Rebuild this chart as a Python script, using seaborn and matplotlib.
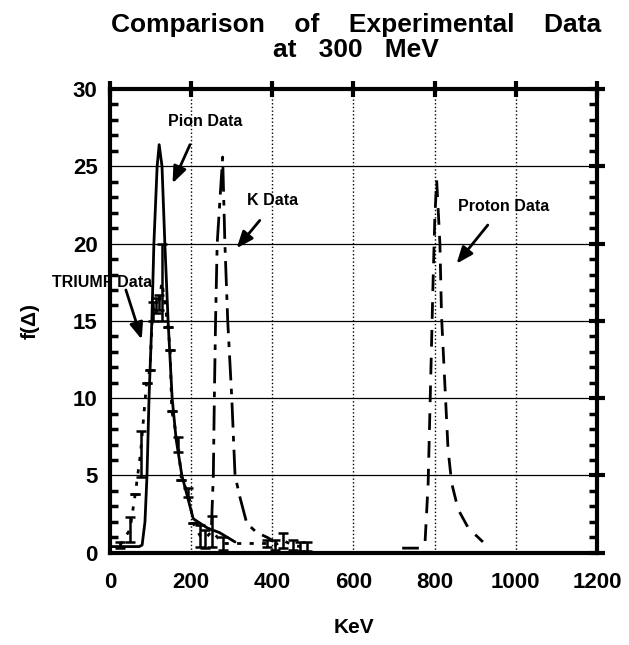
import numpy as np
import pandas as pd
import matplotlib
matplotlib.use("Agg")
import matplotlib.pyplot as plt
import seaborn as sns
from matplotlib.ticker import MultipleLocator

# pion data (solid)
pion_kev = [0, 72, 79, 86, 91, 96, 103, 108, 116, 121, 128, 135, 143, 153, 163, 177, 192, 205, 240, 270, 308]
pion_f = [0.4, 0.4, 0.5, 2, 5, 10, 15, 20, 25, 26.4, 25, 20, 15, 10, 7.3, 5, 3.5, 2.2, 1.6, 1.3, 0.7]

# K data (dash-dot)
k_kev = [250, 254.5, 257, 260, 264, 277.5, 283, 290, 300, 308, 320, 337, 362, 387, 400]
k_f = [1.8, 5, 10, 15, 20, 25.6, 20, 15, 10, 5, 3.6, 1.9, 1.3, 1.0, 0.8]

# proton data (dashed)
proton_kev = [720, 765, 776, 784, 788, 792, 796, 800.5, 805, 813, 817, 825, 833, 842, 858, 883, 919]
proton_f = [0.3, 0.3, 0.5, 4.5, 8.8, 13.1, 17.4, 21.7, 24.1, 20, 15.3, 11, 6.7, 4.5, 2.8, 1.6, 0.7]

# TRIUMF data with error bars
triumf_kev = [25, 49, 62, 75, 90, 98, 105, 112, 120, 128, 143, 148, 152, 168, 176, 193, 205,
              222, 234, 251, 278, 387, 406, 426, 450, 468, 485]
triumf_f = [0.5, 1.5, 3.8, 6.4, 11, 11.8, 15.6, 16, 16.2, 17.5, 14.6, 13.1, 9.2, 7, 4.7, 3.9, 1.9,
            1.1, 0.9, 1.4, 0.6, 0.6, 0.5, 0.8, 0.5, 0.4, 0.4]
triumf_err = [0.2, 0.8, 0, 1.5, 0, 0, 0.6, 0.5, 0.5, 2.5, 0, 0, 0, 0.5, 0, 0.3, 0,
              0.7, 0.6, 1.0, 0.4, 0.2, 0.3, 0.5, 0.3, 0.3, 0.3]

sns.set_style("white")
plt.rcParams['font.family'] = ['Liberation Sans', 'DejaVu Sans']
plt.rcParams['font.weight'] = 'bold'
for key in ['text.color', 'axes.labelcolor', 'xtick.color', 'ytick.color']:
    plt.rcParams[key] = 'black'

fig = plt.figure(figsize=(6.29, 6.45), dpi=100)
ax = fig.add_axes([0.175, 0.143, 0.774, 0.719])

sns.lineplot(x=pion_kev, y=pion_f, ax=ax, color='black', lw=2, sort=False)
sns.lineplot(x=k_kev, y=k_f, ax=ax, color='black', lw=2, sort=False)
ax.lines[-1].set_dashes([9, 3, 2, 3])
sns.lineplot(x=proton_kev, y=proton_f, ax=ax, color='black', lw=2, sort=False)
ax.lines[-1].set_dashes([6, 4])
sns.lineplot(x=triumf_kev, y=triumf_f, ax=ax, color='black', lw=2, sort=False)
ax.lines[-1].set_dashes([1.5, 3])
ax.errorbar(triumf_kev, triumf_f, yerr=triumf_err, fmt='none', ecolor='black',
            elinewidth=1.8, capsize=3.5, capthick=1.8)

ax.set_xlim(0, 1200)
ax.set_ylim(0, 30)
ax.xaxis.set_major_locator(MultipleLocator(200))
ax.yaxis.set_major_locator(MultipleLocator(5))
ax.yaxis.set_minor_locator(MultipleLocator(1))

# grid: solid horizontals, dotted verticals
for yv in [5, 10, 15, 20, 25]:
    ax.axhline(yv, color='black', lw=0.9, zorder=0)
for xv in [200, 400, 600, 800, 1000]:
    ax.axvline(xv, color='black', lw=1, ls=':', zorder=0)

for s in ax.spines.values():
    s.set_linewidth(3)
    s.set_color('black')

ax.tick_params(axis='both', which='major', direction='inout', length=12, width=3,
               labelsize=16, top=True, right=True)
ax.tick_params(axis='x', which='major', pad=8)
ax.tick_params(axis='y', which='major', pad=3)
ax.tick_params(axis='y', which='minor', direction='in', length=6, width=2.5,
               left=True, right=True)
for lab in ax.get_xticklabels() + ax.get_yticklabels():
    lab.set_fontweight('bold')

ax.set_xlabel('KeV', fontsize=15, fontweight='bold', labelpad=18)
ax.set_ylabel('f(Δ)', fontsize=15, fontweight='bold', labelpad=24)

fig.text(0.566, 0.962, 'Comparison    of    Experimental    Data', ha='center', va='center',
         fontsize=19, fontweight='bold')
fig.text(0.566, 0.922, 'at   300   MeV', ha='center', va='center', fontsize=19,
         fontweight='bold')

arrow = dict(arrowstyle='-|>,head_length=1.0,head_width=0.4', color='black', lw=2,
             shrinkA=0, shrinkB=0)
ax.annotate('Pion Data', xy=(154, 23.9), xytext=(234, 27.9), fontsize=11.5, fontweight='bold',
            ha='center', va='center')
ax.annotate('', xy=(154, 23.9), xytext=(197, 26.4), arrowprops=arrow)
ax.annotate('K Data', xy=(312, 19.7), xytext=(400, 22.8), fontsize=11.5, fontweight='bold',
            ha='center', va='center')
ax.annotate('', xy=(312, 19.7), xytext=(369, 21.5), arrowprops=arrow)
ax.annotate('Proton Data', xy=(854, 18.7), xytext=(969, 22.4), fontsize=11.5, fontweight='bold',
            ha='center', va='center')
ax.annotate('', xy=(854, 18.7), xytext=(931, 21.2), arrowprops=arrow)
ax.annotate('TRIUMF Data', xy=(78, 13.8), xytext=(-20, 17.5), fontsize=11.5, fontweight='bold',
            ha='center', va='center', annotation_clip=False)
ax.annotate('', xy=(78, 13.8), xytext=(39, 17.0), arrowprops=arrow)

fig.savefig('out.png', dpi=100)
